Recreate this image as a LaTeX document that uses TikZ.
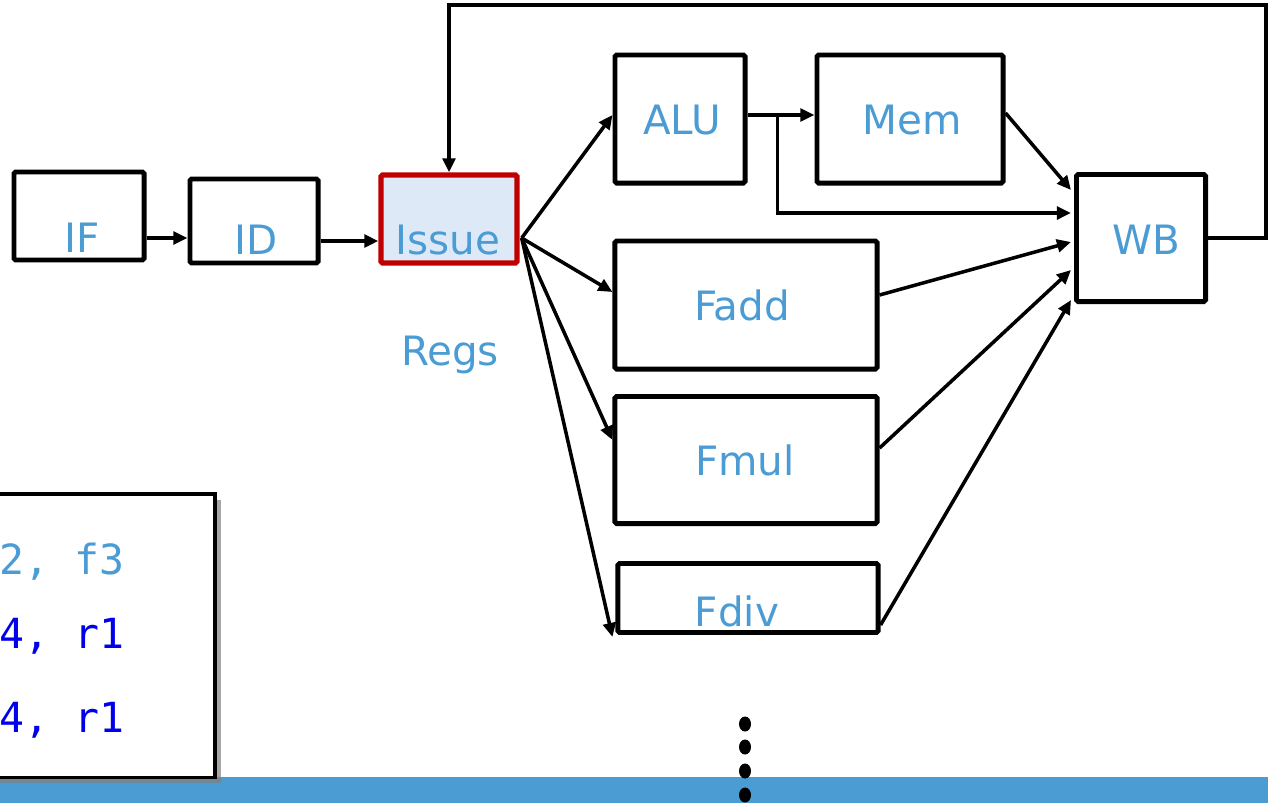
\documentclass[tikz,border=0pt]{standalone}
\usepackage{fontspec}
\setmainfont{DejaVu Sans}
\setmonofont{DejaVu Sans Mono}
\usepackage{tikz}
\usetikzlibrary{arrows.meta, positioning, calc, shadows}
\definecolor{lblue}{RGB}{75, 156, 213}
\definecolor{codeblue}{RGB}{0, 0, 235}
\definecolor{issuered}{RGB}{192, 0, 0}
\definecolor{issuefill}{RGB}{221, 233, 246}
\definecolor{barblue}{RGB}{74, 156, 211}
\tikzstyle{unit} = [rectangle, draw=black, line width=1.4pt, fill=white, inner sep=0pt, rounded corners=0.5pt]
\tikzstyle{issuebox} = [rectangle, draw=issuered, line width=1.5pt, fill=issuefill, inner sep=0pt, rounded corners=0.5pt]
\tikzstyle{lbl} = [text=lblue, font=\fontsize{11.5pt}{14pt}\selectfont, inner sep=0pt]
\tikzstyle{codeline} = [anchor=east, font=\ttfamily\fontsize{11.8pt}{14pt}\selectfont, inner sep=0pt]
\tikzstyle{conn} = [line width=1pt, -{Triangle[length=4pt, width=3.6pt]}]

\begin{document}
\begin{tikzpicture}[x=0.01cm, y=-0.01cm]
    \useasboundingbox (0,0) rectangle (1268,803);
    \clip (0,0) rectangle (1268,803);

    % Bottom bar
    \fill[barblue] (0,777) rectangle (1268,803);

    % Pipeline front
    \node[unit, minimum width=1.3cm, minimum height=0.88cm] (if) at (79,216) {};
    \node[lbl] at (82,238) {IF};
    \node[unit, minimum width=1.28cm, minimum height=0.84cm] (id) at (254,221) {};
    \node[lbl] at (256,240) {ID};
    \node[issuebox, minimum width=1.36cm, minimum height=0.88cm] (issue) at (449,219) {};
    \node[lbl] at (448,240) {Issue};
    \node[lbl] (regs) at (450,355) {Regs};

    % Functional units
    \node[unit, minimum width=1.3cm, minimum height=1.28cm] (alu) at (680,119) {};
    \node[lbl] at (682,120) {ALU};
    \node[unit, minimum width=1.86cm, minimum height=1.28cm] (mem) at (910,119) {};
    \node[lbl] at (912,120) {Mem};
    \node[unit, minimum width=2.62cm, minimum height=1.28cm] (fadd) at (746,305) {};
    \node[lbl] at (742,305) {Fadd};
    \node[unit, minimum width=2.62cm, minimum height=1.27cm] (fmul) at (746,460) {};
    \node[lbl] at (745,460) {Fmul};
    \node[unit, minimum width=2.6cm, minimum height=0.69cm] (fdiv) at (748,598) {};
    \node[lbl] at (737,611) {Fdiv};
    \node[unit, minimum width=1.29cm, minimum height=1.27cm] (wb) at (1141,238) {};
    \node[lbl] at (1146,240) {WB};

    % Connections
    \coordinate (isout) at ($(issue.east)+(2,19)$);
    \draw[conn] ($(if.east)+(0,22)$) -- ($(id.west)+(0,17)$);
    \draw[conn] ($(id.east)+(0,20)$) -- ($(issue.west)+(0,22)$);
    \draw[conn] (isout) -- ($(alu.west)+(0,-4)$);
    \draw[conn] (isout) -- ($(fadd.west)+(0,-13)$);
    \draw[conn] (isout) -- ($(fmul.west)+(0,-20)$);
    \draw[conn] (isout) -- ($(fdiv.south west)+(-3,2)$);
    \draw[conn] ($(alu.east)+(0,-4)$) -- ($(mem.west)+(0,-4)$);
    \draw[conn] ($(alu.east)+(30,-4)$) |- ($(wb.west)+(-3,-25)$);
    \draw[conn] ($(mem.east)+(0,-6)$) -- ($(wb.west)+(-3,-48)$);
    \draw[conn] ($(fadd.east)+(0,-10)$) -- ($(wb.west)+(-3,4)$);
    \draw[conn] ($(fmul.east)+(0,-12)$) -- ($(wb.west)+(-3,32)$);
    \draw[conn] ($(fdiv.east)+(0,27)$) -- ($(wb.west)+(-3,62)$);
    \draw[conn] (wb.east) -| (1266,5) -| (issue.north);

    % Code box
    \node[draw=black, line width=0.9pt, fill=white, minimum width=2.35cm, minimum height=2.83cm,
          drop shadow={shadow xshift=1.6pt, shadow yshift=-1.6pt, opacity=0.7}] (code) at (97.5,635.5) {};
    \node[codeline, text=lblue] (l1) at (125,562) {2, f3};
    \node[codeline, text=codeblue] (l2) at (125,636) {4, r1};
    \node[codeline, text=codeblue] (l3) at (125,720) {4, r1};

    % Dots
    \foreach \y in {724,747,771,795}
        \fill[black] (745,\y) ellipse [x radius=6, y radius=7.5];
\end{tikzpicture}
\end{document}
